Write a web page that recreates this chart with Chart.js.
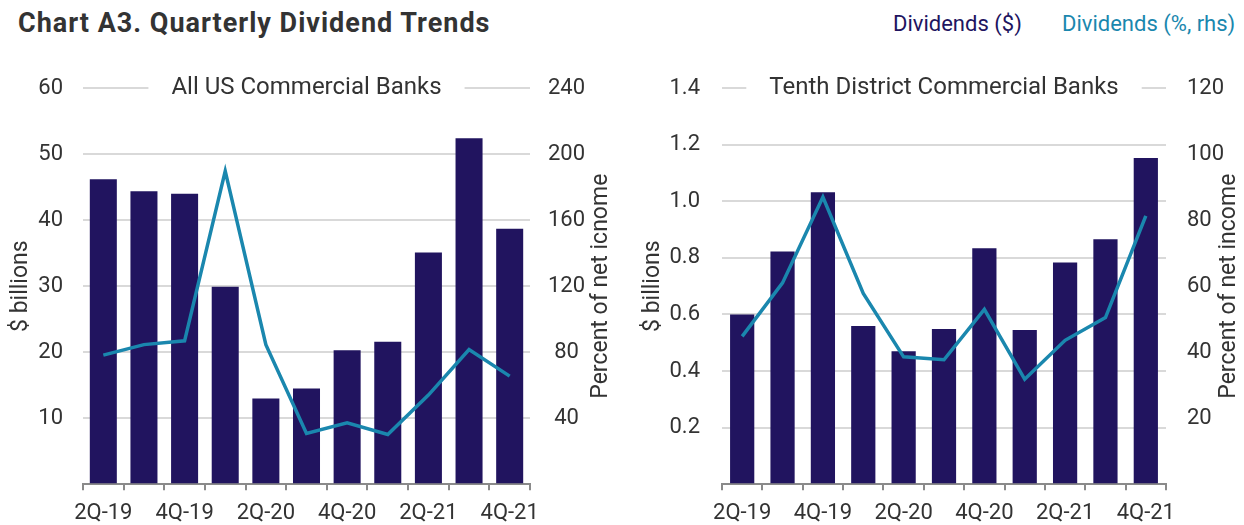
<!DOCTYPE html>
<html>
<head>
<meta charset="utf-8">
<script src="https://cdn.jsdelivr.net/npm/chart.js@4.4.1/dist/chart.umd.min.js"></script>
<style>
  body { margin: 0; background: #fff; font-family: Roboto, sans-serif; }
  #wrap { position: relative; width: 1244px; height: 525px; overflow: hidden; }
  #title { position: absolute; left: 18px; top: 8px; font-size: 27px; line-height: 30px; font-weight: bold; letter-spacing: 1px; color: #333; }
  .leg { position: absolute; top: 11px; font-size: 22px; line-height: 26px; }
  #legBar { left: 893px; color: #21145f; }
  #legLine { left: 1062px; color: #1a87ae; }
  .panel { position: absolute; width: 622px; }
  /* chart.js puts (half label + tick padding) above the plot, so panels start a bit higher */
  #leftPanel { left: 0; top: 54.8px; height: 470.2px; }
  #rightPanel { left: 622px; top: 52.8px; height: 472.2px; }
</style>
</head>
<body>
<div id="wrap">
  <div id="title">Chart A3. Quarterly Dividend Trends</div>
  <div class="leg" id="legBar">Dividends ($)</div>
  <div class="leg" id="legLine">Dividends (%, rhs)</div>
  <div class="panel" id="leftPanel"><canvas id="usChart"></canvas></div>
  <div class="panel" id="rightPanel"><canvas id="tenthChart"></canvas></div>
</div>
<script>
const quarters = ["2Q-19", "3Q-19", "4Q-19", "1Q-20", "2Q-20", "3Q-20", "4Q-20", "1Q-21", "2Q-21", "3Q-21", "4Q-21"];

// All US commercial banks
const usDividends = [46.2, 44.4, 44.0, 29.9, 13.0, 14.5, 20.3, 21.6, 35.1, 52.4, 38.7];      // $ billions
const usPctIncome = [78.2, 84.6, 86.9, 189.7, 84.6, 30.7, 37.2, 30.1, 54.0, 81.6, 65.5];     // % of net income

// Tenth District commercial banks
const tenthDividends = [0.60, 0.823, 1.032, 0.559, 0.47, 0.549, 0.834, 0.545, 0.784, 0.866, 1.153];
const tenthPctIncome = [44.8, 61.0, 87.0, 57.8, 38.6, 37.7, 53.0, 31.8, 43.6, 50.5, 81.3];

const BAR_COLOR = "#21145f";
const LINE_COLOR = "#1a87ae";
const TEXT_COLOR = "#333";
const FONT = "Roboto";

// panel title sits on the top gridline, axis titles drawn by hand
const panelDecor = {
    id: "panelDecor",
    afterDraw(chart, args, opts) {
        const { ctx, chartArea } = chart;
        const yTop = chart.scales.y.getPixelForValue(chart.scales.y.max);
        ctx.save();
        ctx.font = "24px " + FONT;
        const w = ctx.measureText(opts.title).width;
        const cx = (chartArea.left + chartArea.right) / 2;
        ctx.fillStyle = "#fff";
        ctx.fillRect(cx - w / 2 - 23, yTop - 15, w + 46, 30);
        ctx.fillStyle = TEXT_COLOR;
        ctx.textAlign = "center";
        ctx.textBaseline = "middle";
        ctx.fillText(opts.title, cx, yTop);

        ctx.font = "23px " + FONT;
        const cy = (chartArea.top + chartArea.bottom) / 2;
        [[opts.leftX, opts.leftTitle], [opts.rightX, opts.rightTitle]].forEach(([x, t]) => {
            ctx.save();
            ctx.translate(x, cy);
            ctx.rotate(-Math.PI / 2);
            ctx.fillText(t, 0, 0);
            ctx.restore();
        });
        ctx.restore();
    }
};

function makeChart(id, cfg) {
    return new Chart(document.getElementById(id), {
        type: "bar",
        data: {
            labels: quarters,
            datasets: [
                {
                    type: "line",
                    label: "Dividends (%, rhs)",
                    data: cfg.line,
                    yAxisID: "y1",
                    borderColor: LINE_COLOR,
                    borderWidth: 3.5,
                    pointRadius: 0,
                    tension: 0,
                    order: 0
                },
                {
                    label: "Dividends ($)",
                    data: cfg.bars,
                    yAxisID: "y",
                    backgroundColor: BAR_COLOR,
                    categoryPercentage: 1,
                    barPercentage: cfg.barPct,
                    order: 1
                }
            ]
        },
        options: {
            responsive: true,
            maintainAspectRatio: false,
            animation: false,
            layout: { padding: 0 },
            plugins: {
                legend: { display: false },
                tooltip: { enabled: false },
                panelDecor: {
                    title: cfg.title,
                    leftTitle: "$ billions",
                    rightTitle: cfg.rightTitle,
                    leftX: cfg.leftTitleX,
                    rightX: cfg.rightTitleX
                }
            },
            scales: {
                x: {
                    grid: { drawOnChartArea: false, drawTicks: true, tickLength: 6, color: "#8a8a8a", lineWidth: 2 },
                    border: { color: "#8a8a8a", width: 2 },
                    ticks: {
                        autoSkip: false,
                        maxRotation: 0,
                        padding: 10,
                        color: TEXT_COLOR,
                        font: { family: FONT, size: 22 },
                        callback: (v, i) => (i % 2 === 0 ? quarters[i] : "")
                    },
                    afterFit: (s) => { s.height = 41; }
                },
                y: {
                    position: "left",
                    min: 0,
                    max: cfg.yMax,
                    grid: { color: "#d9d9d9", lineWidth: 2, drawTicks: false },
                    border: { display: false },
                    ticks: {
                        stepSize: cfg.yStep,
                        padding: cfg.yPad,
                        color: TEXT_COLOR,
                        font: { family: FONT, size: 22 },
                        callback: (v) => (v === 0 ? "" : cfg.yFmt(v))
                    },
                    afterFit: (s) => { s.width = cfg.leftW; }
                },
                y1: {
                    position: "right",
                    min: 0,
                    max: cfg.y1Max,
                    grid: { drawOnChartArea: false, drawTicks: false },
                    border: { display: false },
                    ticks: {
                        stepSize: cfg.y1Step,
                        padding: cfg.y1Pad,
                        crossAlign: cfg.y1Align,
                        color: TEXT_COLOR,
                        font: { family: FONT, size: 22 },
                        callback: (v) => (v === 0 ? "" : v)
                    },
                    afterFit: (s) => { s.width = cfg.rightW; }
                }
            }
        },
        plugins: [panelDecor]
    });
}

makeChart("usChart", {
    title: "All US Commercial Banks",
    rightTitle: "Percent of net icnome",
    bars: usDividends,
    line: usPctIncome,
    barPct: 0.665,
    yMax: 60, yStep: 10, yPad: 20, yFmt: (v) => v,
    y1Max: 240, y1Step: 40, y1Pad: 18, y1Align: "center",
    leftW: 83, rightW: 92,
    leftTitleX: 21, rightTitleX: 601
});

makeChart("tenthChart", {
    title: "Tenth District Commercial Banks",
    rightTitle: "Percent of net income",
    bars: tenthDividends,
    line: tenthPctIncome,
    barPct: 0.60,
    yMax: 1.4, yStep: 0.2, yPad: 22, yFmt: (v) => v.toFixed(1),
    y1Max: 120, y1Step: 20, y1Pad: 21, y1Align: "near",
    leftW: 100, rightW: 78,
    leftTitleX: 31, rightTitleX: 607
});
</script>
</body>
</html>
